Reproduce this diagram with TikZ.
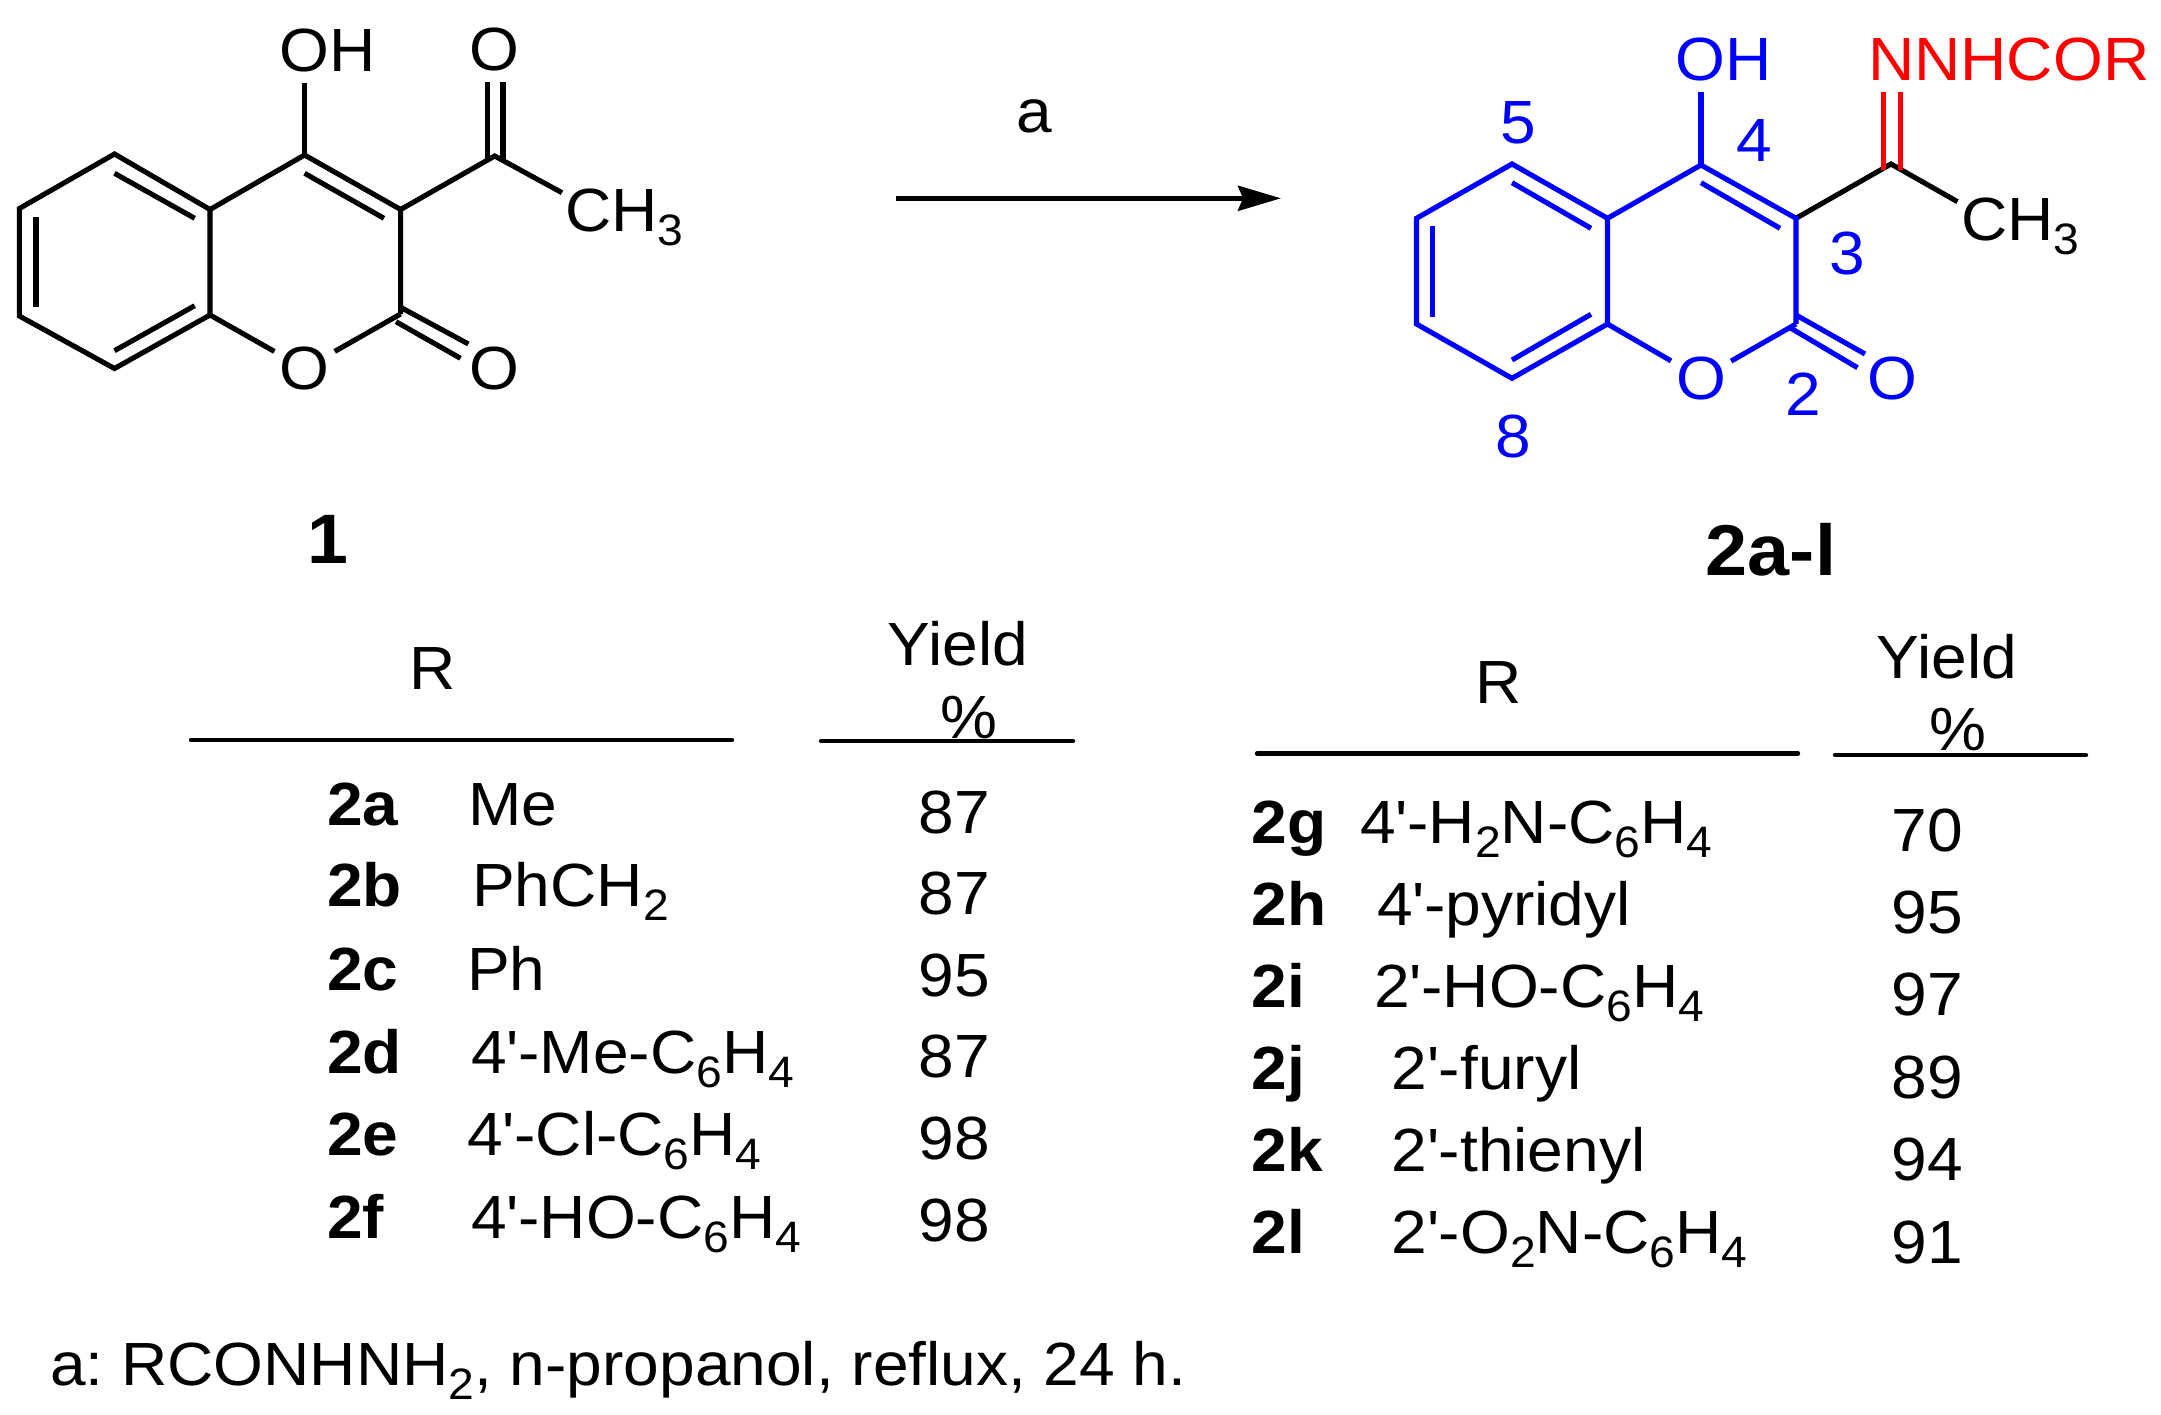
\documentclass[tikz,border=0pt]{standalone}
\usepackage{fontspec}
\setmainfont[FakeStretch=1.05]{Liberation Sans}
\usetikzlibrary{arrows.meta}
\newcommand{\subidx}[1]{\raisebox{-14pt}{\fontsize{44}{44}\selectfont #1}}
\newcommand{\pr}{\textquotesingle}
\tikzset{
  bond/.style={line width=5.1pt},
  rulebar/.style={line width=4.4pt,line cap=round},
  txt/.style={inner sep=0pt,anchor=base west,font=\fontsize{61}{66}\selectfont},
  ctr/.style={inner sep=0pt,anchor=base,font=\fontsize{61}{66}\selectfont},
  lab/.style={inner sep=0pt,anchor=base west,font=\fontsize{61}{66}\selectfont\bfseries},
  atom/.style={circle,inner sep=0pt,minimum size=69pt,font=\fontsize{61}{66}\selectfont}
}
\begin{document}
\begin{tikzpicture}[x=1pt,y=-1pt]
\useasboundingbox (0,0) rectangle (2161,1414);
% compound 1
\coordinate (a5) at (114.5,154);
\coordinate (a6) at (19.4,208.5);
\coordinate (a7) at (19.4,316);
\coordinate (a8) at (114.5,368.5);
\coordinate (a4a) at (210,209.5);
\coordinate (a8a) at (210,315);
\coordinate (a4) at (304.6,155);
\coordinate (a3) at (400.6,209.5);
\coordinate (a2) at (400.6,314);
\coordinate (ax) at (494.7,156);
\node[atom] (aO1) at (304.6,368.5){O};
\node[atom] (aO2) at (494.7,368.5){O};
\node[atom] (aOx) at (494.7,49.3){O};
\node[txt] (aOH) at (279,71.7){OH};
\node[txt] (aMe) at (565,231.7){CH\subidx{3}};
\coordinate (aOHe) at (304.6,82.7);
\coordinate (aMee) at (562,192.7);
\draw[bond] (a5) -- (a6) -- (a7) -- (a8) -- (a8a) -- (a4a) -- cycle;
\draw[bond] (a4a) -- (a4) -- (a3) -- (a2);
\draw[bond] (a8a) -- (aO1) -- (a2);
\draw[bond] (a4) -- (aOHe);
\draw[bond] (a3) -- (ax) -- (aMee);
\coordinate (ad1) at (114.5,173.3);
\coordinate (ad2) at (194.7,218.3);
\coordinate (ad3) at (36,216.7);
\coordinate (ad4) at (36,306.7);
\coordinate (ad5) at (114.5,350.7);
\coordinate (ad6) at (194.7,305.7);
\coordinate (ad7) at (304.6,173.3);
\coordinate (ad8) at (384,218.3);
\draw[bond] (ad1) -- (ad2);
\draw[bond] (ad3) -- (ad4);
\draw[bond] (ad5) -- (ad6);
\draw[bond] (ad7) -- (ad8);
\coordinate (ac1) at (400.6,307.3);
\coordinate (ac2) at (468.4,344);
\coordinate (ac3) at (396,321.7);
\coordinate (ac4) at (460.5,358.3);
\draw[bond] (ac1) -- (ac2);
\draw[bond] (ac3) -- (ac4);
\coordinate (ac5) at (487.8,82.3);
\coordinate (ac6) at (487.8,159.3);
\coordinate (ac7) at (503,82.3);
\coordinate (ac8) at (503,159.3);
\draw[bond] (ac5) -- (ac6);
\draw[bond] (ac7) -- (ac8);
\node[ctr] (n1) at (328,563){\fontsize{70}{70}\selectfont\bfseries 1};
% arrow
\coordinate (s) at (896,198.3);
\coordinate (e) at (1281,198.3);
\draw[line width=4.7pt,-{Stealth[length=43pt,width=25pt,inset=5pt]}] (s) -- (e);
\node[ctr] (cond) at (1034,132.7){a};
% compound 2
\coordinate (b5) at (1512,164);
\coordinate (b6) at (1416.5,218.3);
\coordinate (b7) at (1416.5,324);
\coordinate (b8) at (1512,378.3);
\coordinate (b4a) at (1607.5,218.3);
\coordinate (b8a) at (1607.5,324);
\coordinate (b4) at (1701,165);
\coordinate (b3) at (1796,218.3);
\coordinate (b2) at (1796,324);
\coordinate (bx) at (1891,164);
\node[atom,blue] (bO1) at (1701,378.3){O};
\node[atom,blue] (bO2) at (1892,378.3){O};
\node[txt,blue] (bOH) at (1675,80.7){OH};
\node[txt,red] (bN) at (1868,80.7){NNHCOR};
\node[txt] (bMe) at (1961,240){CH\subidx{3}};
\coordinate (bOHe) at (1701,92.3);
\coordinate (bMee) at (1957.5,201.7);
\draw[bond] (b3) -- (bx) -- (bMee);
\begin{scope}[blue]
\draw[bond] (b5) -- (b6) -- (b7) -- (b8) -- (b8a) -- (b4a) -- cycle;
\draw[bond] (b4a) -- (b4) -- (b3) -- (b2);
\draw[bond] (b8a) -- (bO1) -- (b2);
\draw[bond] (b4) -- (bOHe);
\coordinate (bd1) at (1512,182.7);
\coordinate (bd2) at (1591,228.3);
\coordinate (bd3) at (1432.5,225.7);
\coordinate (bd4) at (1432.5,316.7);
\coordinate (bd5) at (1512,360);
\coordinate (bd6) at (1591,314.3);
\coordinate (bd7) at (1701,182.7);
\coordinate (bd8) at (1780,228.3);
\draw[bond] (bd1) -- (bd2);
\draw[bond] (bd3) -- (bd4);
\draw[bond] (bd5) -- (bd6);
\draw[bond] (bd7) -- (bd8);
\coordinate (bc1) at (1796,315);
\coordinate (bc2) at (1865,354);
\coordinate (bc3) at (1791,328.3);
\coordinate (bc4) at (1857.5,367.7);
\draw[bond] (bc1) -- (bc2);
\draw[bond] (bc3) -- (bc4);
\end{scope}
\coordinate (bc5) at (1883.5,92.3);
\coordinate (bc6) at (1883.5,170);
\coordinate (bc7) at (1900.5,92.3);
\coordinate (bc8) at (1900.5,170);
\draw[bond,red] (bc5) -- (bc6);
\draw[bond,red] (bc7) -- (bc8);
% ring numbers
\node[ctr,blue] (n5) at (1518.5,143.3){5};
\node[ctr,blue] (n4) at (1754,161.7){4};
\node[ctr,blue] (n3) at (1847.5,274){3};
\node[ctr,blue] (n2) at (1803.5,415){2};
\node[ctr,blue] (n8) at (1513.5,457){8};
\node[ctr] (n2al) at (1771,575){\fontsize{72}{72}\selectfont\bfseries 2a-l};
% left table
\node[ctr] (hR1) at (433,689){R};
\node[ctr] (hY1) at (958,665){Yield};
\node[ctr] (hP1) at (969,738){\%};
\coordinate (r1a) at (191,740);
\coordinate (r1b) at (732,740);
\coordinate (r2a) at (821,741);
\coordinate (r2b) at (1073,741);
\draw[rulebar] (r1a) -- (r1b);
\draw[rulebar] (r2a) -- (r2b);
\node[lab] (l2a) at (327,825){2a};
\node[lab] (l2b) at (327,906){2b};
\node[lab] (l2c) at (327,990){2c};
\node[lab] (l2d) at (327,1073){2d};
\node[lab] (l2e) at (327,1155){2e};
\node[lab] (l2f) at (327,1238){2f};
\node[txt] (t2a) at (468,825){Me};
\node[txt] (t2b) at (472,906){PhCH\subidx{2}};
\node[txt] (t2c) at (467,990){Ph};
\node[txt] (t2d) at (471,1073){4\pr-Me-C\subidx{6}H\subidx{4}};
\node[txt] (t2e) at (467,1155){4\pr-Cl-C\subidx{6}H\subidx{4}};
\node[txt] (t2f) at (471,1238){4\pr-HO-C\subidx{6}H\subidx{4}};
\node[ctr] (y2a) at (954,833.5){87};
\node[ctr] (y2b) at (954,914){87};
\node[ctr] (y2c) at (954,996){95};
\node[ctr] (y2d) at (954,1077){87};
\node[ctr] (y2e) at (954,1159){98};
\node[ctr] (y2f) at (954,1241.5){98};
% right table
\node[ctr] (hR2) at (1499,703){R};
\node[ctr] (hY2) at (1947,678){Yield};
\node[ctr] (hP2) at (1958,750){\%};
\coordinate (r3a) at (1257,753.5);
\coordinate (r3b) at (1798,753.5);
\coordinate (r4a) at (1835,755);
\coordinate (r4b) at (2086,755);
\draw[rulebar] (r3a) -- (r3b);
\draw[rulebar] (r4a) -- (r4b);
\node[lab] (l2g) at (1251.5,843.5){2g};
\node[lab] (l2h) at (1251.5,925){2h};
\node[lab] (l2i) at (1251.5,1007){2i};
\node[lab] (l2j) at (1251.5,1089){2j};
\node[lab] (l2k) at (1251.5,1171.5){2k};
\node[lab] (l2l) at (1251.5,1253){2l};
\node[txt] (t2g) at (1360,843.5){4\pr-H\subidx{2}N-C\subidx{6}H\subidx{4}};
\node[txt] (t2h) at (1377,925){4\pr-pyridyl};
\node[txt] (t2i) at (1374,1007){2\pr-HO-C\subidx{6}H\subidx{4}};
\node[txt] (t2j) at (1391.5,1089){2\pr-furyl};
\node[txt] (t2k) at (1391.5,1171.5){2\pr-thienyl};
\node[txt] (t2l) at (1391.5,1253){2\pr-O\subidx{2}N-C\subidx{6}H\subidx{4}};
\node[ctr] (y2g) at (1927,851){70};
\node[ctr] (y2h) at (1927,933.5){95};
\node[ctr] (y2i) at (1927,1015.5){97};
\node[ctr] (y2j) at (1927,1098){89};
\node[ctr] (y2k) at (1927,1180.5){94};
\node[ctr] (y2l) at (1927,1263){91};
% footnote
\node[txt] (foot) at (50,1385){a:\hspace{-6pt} RCONHNH\subidx{2}, n-propanol, reflux, 24 h.};
\end{tikzpicture}
\end{document}
